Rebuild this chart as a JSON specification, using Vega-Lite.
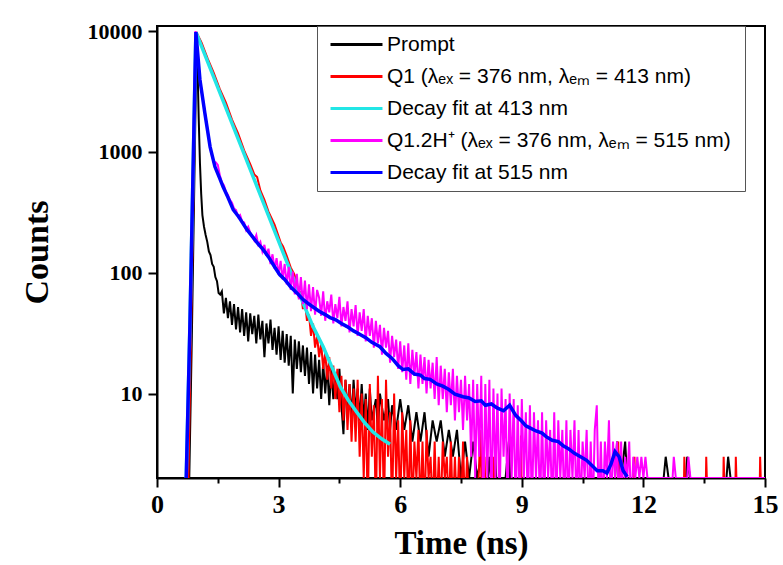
{
"$schema":"https://vega.github.io/schema/vega-lite/v6.json",
"width":608,"height":452,
"autosize":{"type":"none"},
"padding":{"left":157,"top":26,"right":18,"bottom":87},
"background":"white",
"config":{"view":{"stroke":"black","strokeWidth":2},"axis":{"grid":false,"domainColor":"black","domainWidth":2,"tickColor":"black","tickWidth":2,"labelColor":"black","titleColor":"black"}},
"datasets":{
"prompt":[{"t":0.78,"v":1},{"t":0.86,"v":30},{"t":0.98,"v":9600},{"t":1.0,"v":5000},{"t":1.03,"v":1840},{"t":1.06,"v":800},{"t":1.09,"v":450},{"t":1.12,"v":300},{"t":1.16,"v":240},{"t":1.2,"v":205},{"t":1.24,"v":180},{"t":1.28,"v":150},{"t":1.32,"v":140},{"t":1.36,"v":118},{"t":1.4,"v":112},{"t":1.44,"v":92},{"t":1.48,"v":85},{"t":1.52,"v":68},{"t":1.56,"v":66},{"t":1.6,"v":70},{"t":1.65,"v":46},{"t":1.7,"v":62},{"t":1.75,"v":42},{"t":1.8,"v":58},{"t":1.85,"v":37},{"t":1.9,"v":55},{"t":1.95,"v":34},{"t":2.0,"v":52},{"t":2.05,"v":32},{"t":2.1,"v":50},{"t":2.15,"v":30},{"t":2.2,"v":47},{"t":2.25,"v":27},{"t":2.3,"v":46},{"t":2.35,"v":31},{"t":2.4,"v":44},{"t":2.45,"v":26},{"t":2.5,"v":45},{"t":2.55,"v":28},{"t":2.6,"v":40},{"t":2.65,"v":20},{"t":2.7,"v":38},{"t":2.75,"v":26},{"t":2.8,"v":41},{"t":2.85,"v":23},{"t":2.9,"v":35},{"t":2.95,"v":21},{"t":3.0,"v":36},{"t":3.05,"v":19},{"t":3.1,"v":33},{"t":3.15,"v":18},{"t":3.2,"v":31},{"t":3.25,"v":17},{"t":3.3,"v":30},{"t":3.35,"v":10},{"t":3.4,"v":28},{"t":3.45,"v":16},{"t":3.5,"v":27},{"t":3.55,"v":15},{"t":3.6,"v":25},{"t":3.65,"v":14},{"t":3.7,"v":24},{"t":3.75,"v":12},{"t":3.8,"v":22},{"t":3.85,"v":10},{"t":3.9,"v":21},{"t":3.95,"v":11},{"t":4.0,"v":19},{"t":4.05,"v":9},{"t":4.1,"v":18},{"t":4.15,"v":10},{"t":4.2,"v":17},{"t":4.25,"v":8},{"t":4.3,"v":16},{"t":4.35,"v":9},{"t":4.4,"v":15},{"t":4.45,"v":9},{"t":4.5,"v":16},{"t":4.55,"v":8},{"t":4.6,"v":4.6},{"t":4.65,"v":13},{"t":4.7,"v":7},{"t":4.75,"v":12},{"t":4.8,"v":6},{"t":4.85,"v":13},{"t":4.9,"v":7},{"t":4.95,"v":11},{"t":5.0,"v":6},{"t":5.05,"v":12},{"t":5.1,"v":6},{"t":5.15,"v":10},{"t":5.2,"v":5},{"t":5.25,"v":11},{"t":5.3,"v":6},{"t":5.4,"v":9},{"t":5.45,"v":5},{"t":5.5,"v":10},{"t":5.6,"v":6},{"t":5.7,"v":9},{"t":5.75,"v":5},{"t":5.8,"v":8},{"t":5.9,"v":5},{"t":6.0,"v":9},{"t":6.1,"v":5},{"t":6.2,"v":8},{"t":6.3,"v":4},{"t":6.4,"v":7},{"t":6.5,"v":4},{"t":6.6,"v":7},{"t":6.7,"v":3},{"t":6.8,"v":6},{"t":6.9,"v":4},{"t":7.0,"v":6},{"t":7.1,"v":3},{"t":7.2,"v":5},{"t":7.3,"v":3},{"t":7.4,"v":5},{"t":7.5,"v":2},{"t":7.6,"v":4},{"t":7.7,"v":2},{"t":7.8,"v":4},{"t":7.9,"v":2},{"t":8.0,"v":3},{"t":8.1,"v":1},{"t":8.2,"v":3},{"t":8.3,"v":1},{"t":8.35,"v":3},{"t":8.4,"v":1},{"t":8.6,"v":2},{"t":8.68,"v":4},{"t":8.74,"v":1},{"t":9.0,"v":2},{"t":9.5,"v":1},{"t":10.0,"v":2},{"t":10.5,"v":2},{"t":11.0,"v":1},{"t":11.3,"v":2},{"t":11.35,"v":4},{"t":11.45,"v":2},{"t":11.55,"v":4},{"t":11.65,"v":1},{"t":12.0,"v":2},{"t":12.5,"v":2},{"t":12.55,"v":3},{"t":12.62,"v":2},{"t":13.05,"v":2},{"t":13.08,"v":3},{"t":13.15,"v":2},{"t":14.05,"v":2},{"t":14.09,"v":3},{"t":14.15,"v":2},{"t":15.0,"v":2}],
"q1":[{"t":0.76,"v":1},{"t":0.84,"v":34},{"t":0.97,"v":9800},{"t":1.1,"v":8000},{"t":1.25,"v":5900},{"t":1.4,"v":4500},{"t":1.55,"v":3300},{"t":1.7,"v":2550},{"t":1.85,"v":1850},{"t":2.0,"v":1420},{"t":2.15,"v":1030},{"t":2.3,"v":790},{"t":2.4,"v":650},{"t":2.47,"v":620},{"t":2.55,"v":480},{"t":2.65,"v":400},{"t":2.75,"v":320},{"t":2.9,"v":250},{"t":3.05,"v":178},{"t":3.11,"v":165},{"t":3.2,"v":138},{"t":3.3,"v":110},{"t":3.38,"v":98},{"t":3.45,"v":85},{"t":3.5,"v":62},{"t":3.55,"v":70},{"t":3.6,"v":50},{"t":3.65,"v":58},{"t":3.7,"v":40},{"t":3.75,"v":45},{"t":3.8,"v":30},{"t":3.85,"v":38},{"t":3.9,"v":24},{"t":3.95,"v":30},{"t":4.0,"v":20},{"t":4.05,"v":26},{"t":4.1,"v":16},{"t":4.15,"v":22},{"t":4.2,"v":13},{"t":4.25,"v":20},{"t":4.3,"v":11},{"t":4.35,"v":17},{"t":4.4,"v":9},{"t":4.45,"v":16},{"t":4.5,"v":7},{"t":4.55,"v":14},{"t":4.6,"v":6},{"t":4.65,"v":13},{"t":4.7,"v":5},{"t":4.75,"v":12},{"t":4.8,"v":4},{"t":4.85,"v":11},{"t":4.9,"v":4},{"t":4.95,"v":13},{"t":5.0,"v":3},{"t":5.05,"v":10},{"t":5.1,"v":2},{"t":5.15,"v":9},{"t":5.2,"v":1},{"t":5.25,"v":12},{"t":5.3,"v":3},{"t":5.35,"v":8},{"t":5.4,"v":1},{"t":5.45,"v":14},{"t":5.5,"v":2},{"t":5.55,"v":9},{"t":5.6,"v":1},{"t":5.65,"v":13},{"t":5.7,"v":3},{"t":5.75,"v":7},{"t":5.8,"v":1},{"t":5.85,"v":10},{"t":5.9,"v":2},{"t":5.95,"v":6},{"t":6.0,"v":1},{"t":6.05,"v":7},{"t":6.1,"v":2},{"t":6.15,"v":5},{"t":6.2,"v":1},{"t":6.25,"v":6},{"t":6.3,"v":1},{"t":6.35,"v":4},{"t":6.4,"v":2},{"t":6.45,"v":5},{"t":6.5,"v":1},{"t":6.55,"v":4},{"t":6.6,"v":1},{"t":6.65,"v":5},{"t":6.7,"v":2},{"t":6.75,"v":3},{"t":6.8,"v":1},{"t":6.85,"v":4},{"t":6.9,"v":1},{"t":6.95,"v":3},{"t":7.0,"v":1},{"t":7.05,"v":4},{"t":7.1,"v":2},{"t":7.15,"v":3},{"t":7.2,"v":1},{"t":7.25,"v":4},{"t":7.3,"v":1},{"t":7.35,"v":3},{"t":7.4,"v":1},{"t":7.45,"v":3},{"t":7.5,"v":1},{"t":7.55,"v":4},{"t":7.6,"v":1},{"t":7.65,"v":3},{"t":7.7,"v":1},{"t":7.8,"v":2},{"t":7.9,"v":1},{"t":7.98,"v":5},{"t":8.02,"v":1},{"t":8.08,"v":3},{"t":8.12,"v":1},{"t":8.28,"v":1},{"t":8.3,"v":3},{"t":8.36,"v":1},{"t":8.96,"v":1},{"t":8.98,"v":4.5},{"t":9.0,"v":1},{"t":11.36,"v":1},{"t":11.38,"v":4},{"t":11.4,"v":1},{"t":11.76,"v":1},{"t":11.78,"v":3},{"t":11.8,"v":1},{"t":12.99,"v":1},{"t":13.01,"v":3},{"t":13.05,"v":1},{"t":13.53,"v":1},{"t":13.55,"v":3},{"t":13.59,"v":1},{"t":13.96,"v":1},{"t":13.98,"v":3},{"t":14.02,"v":1},{"t":14.26,"v":1},{"t":14.28,"v":3},{"t":14.32,"v":1},{"t":14.86,"v":1},{"t":14.88,"v":3},{"t":14.92,"v":1},{"t":15.0,"v":1}],
"fit413":[{"t":0.7,"v":1},{"t":0.81,"v":34},{"t":0.96,"v":9800},{"t":3.6,"v":56.5},{"t":3.85,"v":35.8},{"t":4.1,"v":24.4},{"t":4.3,"v":17},{"t":4.52,"v":11.4},{"t":4.72,"v":8.8},{"t":4.93,"v":7.0},{"t":5.13,"v":5.7},{"t":5.33,"v":4.8},{"t":5.55,"v":4.2},{"t":5.75,"v":3.8}],
"h":[{"t":0.7,"v":1},{"t":0.81,"v":34},{"t":0.95,"v":10000},{"t":1.0,"v":6500},{"t":1.05,"v":4300},{"t":1.1,"v":3200},{"t":1.15,"v":2500},{"t":1.2,"v":1950},{"t":1.25,"v":1500},{"t":1.3,"v":1150},{"t":1.35,"v":950},{"t":1.4,"v":830},{"t":1.45,"v":820},{"t":1.5,"v":780},{"t":1.55,"v":640},{"t":1.6,"v":560},{"t":1.65,"v":530},{"t":1.7,"v":470},{"t":1.75,"v":440},{"t":1.8,"v":400},{"t":1.85,"v":380},{"t":1.9,"v":340},{"t":1.95,"v":330},{"t":2.0,"v":290},{"t":2.05,"v":300},{"t":2.1,"v":265},{"t":2.15,"v":260},{"t":2.2,"v":225},{"t":2.25,"v":240},{"t":2.3,"v":215},{"t":2.35,"v":200},{"t":2.4,"v":185},{"t":2.45,"v":205},{"t":2.5,"v":170},{"t":2.55,"v":180},{"t":2.6,"v":150},{"t":2.65,"v":170},{"t":2.7,"v":138},{"t":2.75,"v":158},{"t":2.8,"v":118},{"t":2.85,"v":142},{"t":2.9,"v":108},{"t":2.95,"v":132},{"t":3.0,"v":96},{"t":3.05,"v":125},{"t":3.1,"v":88},{"t":3.15,"v":118},{"t":3.2,"v":80},{"t":3.25,"v":112},{"t":3.3,"v":72},{"t":3.35,"v":102},{"t":3.4,"v":66},{"t":3.45,"v":98},{"t":3.5,"v":60},{"t":3.55,"v":92},{"t":3.6,"v":55},{"t":3.65,"v":86},{"t":3.7,"v":50},{"t":3.75,"v":80},{"t":3.8,"v":48},{"t":3.85,"v":76},{"t":3.9,"v":45},{"t":3.95,"v":72},{"t":4.0,"v":62},{"t":4.05,"v":44},{"t":4.1,"v":70},{"t":4.15,"v":40},{"t":4.2,"v":58},{"t":4.25,"v":47},{"t":4.3,"v":66},{"t":4.35,"v":38},{"t":4.4,"v":55},{"t":4.45,"v":42},{"t":4.5,"v":63},{"t":4.55,"v":36},{"t":4.6,"v":52},{"t":4.65,"v":40},{"t":4.7,"v":58},{"t":4.75,"v":32},{"t":4.8,"v":50},{"t":4.85,"v":36},{"t":4.9,"v":54},{"t":4.95,"v":30},{"t":5.0,"v":47},{"t":5.05,"v":33},{"t":5.1,"v":50},{"t":5.15,"v":27},{"t":5.2,"v":44},{"t":5.25,"v":30},{"t":5.3,"v":42},{"t":5.35,"v":24},{"t":5.4,"v":40},{"t":5.45,"v":26},{"t":5.5,"v":37},{"t":5.55,"v":21},{"t":5.6,"v":35},{"t":5.65,"v":24},{"t":5.7,"v":33},{"t":5.75,"v":18},{"t":5.8,"v":30},{"t":5.85,"v":20},{"t":5.9,"v":28},{"t":5.95,"v":16},{"t":6.0,"v":27},{"t":6.05,"v":15},{"t":6.1,"v":25},{"t":6.15,"v":13},{"t":6.2,"v":26},{"t":6.25,"v":12},{"t":6.3,"v":23},{"t":6.35,"v":14},{"t":6.4,"v":22},{"t":6.45,"v":11},{"t":6.5,"v":21},{"t":6.55,"v":12},{"t":6.6,"v":20},{"t":6.65,"v":10},{"t":6.7,"v":19},{"t":6.75,"v":11},{"t":6.8,"v":18},{"t":6.85,"v":9},{"t":6.9,"v":20},{"t":6.95,"v":8},{"t":7.0,"v":17},{"t":7.05,"v":9},{"t":7.1,"v":16},{"t":7.15,"v":7},{"t":7.2,"v":15},{"t":7.25,"v":8},{"t":7.3,"v":16},{"t":7.35,"v":6},{"t":7.4,"v":14},{"t":7.45,"v":7},{"t":7.5,"v":13},{"t":7.55,"v":5},{"t":7.6,"v":14},{"t":7.65,"v":6},{"t":7.7,"v":12},{"t":7.75,"v":3},{"t":7.8,"v":13},{"t":7.85,"v":2},{"t":7.9,"v":12},{"t":7.95,"v":3},{"t":8.0,"v":14},{"t":8.05,"v":1},{"t":8.1,"v":12},{"t":8.15,"v":2},{"t":8.2,"v":13},{"t":8.25,"v":1},{"t":8.3,"v":11},{"t":8.35,"v":2},{"t":8.4,"v":10},{"t":8.45,"v":1},{"t":8.5,"v":11},{"t":8.55,"v":3},{"t":8.6,"v":9},{"t":8.65,"v":1},{"t":8.7,"v":10},{"t":8.75,"v":2},{"t":8.8,"v":9},{"t":8.85,"v":1},{"t":8.9,"v":8},{"t":8.95,"v":1},{"t":9.0,"v":9},{"t":9.05,"v":2},{"t":9.1,"v":7},{"t":9.15,"v":1},{"t":9.2,"v":8},{"t":9.25,"v":1},{"t":9.3,"v":7},{"t":9.35,"v":2},{"t":9.4,"v":6},{"t":9.45,"v":1},{"t":9.5,"v":7},{"t":9.55,"v":1},{"t":9.6,"v":6},{"t":9.65,"v":2},{"t":9.7,"v":5},{"t":9.75,"v":1},{"t":9.8,"v":7},{"t":9.85,"v":1},{"t":9.9,"v":6},{"t":9.95,"v":2},{"t":10.0,"v":5},{"t":10.05,"v":1},{"t":10.1,"v":6},{"t":10.15,"v":1},{"t":10.2,"v":5},{"t":10.25,"v":2},{"t":10.3,"v":6},{"t":10.35,"v":1},{"t":10.4,"v":5},{"t":10.45,"v":1},{"t":10.5,"v":4},{"t":10.55,"v":2},{"t":10.6,"v":5},{"t":10.65,"v":1},{"t":10.7,"v":4},{"t":10.75,"v":1},{"t":10.8,"v":5},{"t":10.85,"v":8},{"t":10.9,"v":1},{"t":10.95,"v":4},{"t":11.0,"v":1},{"t":11.05,"v":4},{"t":11.1,"v":2},{"t":11.15,"v":6},{"t":11.2,"v":1},{"t":11.25,"v":4},{"t":11.3,"v":2},{"t":11.35,"v":4},{"t":11.4,"v":1},{"t":11.45,"v":4},{"t":11.5,"v":1},{"t":11.55,"v":3},{"t":11.6,"v":2},{"t":11.65,"v":4},{"t":11.7,"v":1},{"t":11.75,"v":3},{"t":11.8,"v":2},{"t":11.85,"v":3},{"t":11.9,"v":2},{"t":11.95,"v":3},{"t":12.0,"v":2},{"t":12.05,"v":3},{"t":12.1,"v":2},{"t":12.72,"v":2},{"t":12.75,"v":3},{"t":12.8,"v":2},{"t":13.08,"v":2},{"t":13.11,"v":3},{"t":13.16,"v":2},{"t":15.0,"v":2}],
"fit515":[{"t":0.7,"v":1},{"t":0.81,"v":34},{"t":0.96,"v":9800},{"t":1.06,"v":3940},{"t":1.18,"v":2100},{"t":1.31,"v":1100},{"t":1.43,"v":752},{"t":1.55,"v":600},{"t":1.63,"v":514},{"t":1.75,"v":420},{"t":1.88,"v":332},{"t":2.0,"v":295},{"t":2.1,"v":262},{"t":2.22,"v":227},{"t":2.35,"v":200},{"t":2.5,"v":172},{"t":2.62,"v":155},{"t":2.75,"v":135},{"t":2.9,"v":112},{"t":3.03,"v":96},{"t":3.15,"v":88},{"t":3.3,"v":76},{"t":3.45,"v":68},{"t":3.6,"v":60},{"t":3.75,"v":55},{"t":3.85,"v":52},{"t":4.0,"v":48},{"t":4.15,"v":45},{"t":4.27,"v":42.5},{"t":4.4,"v":41},{"t":4.55,"v":38},{"t":4.69,"v":35.8},{"t":4.85,"v":33},{"t":5.0,"v":31},{"t":5.15,"v":29},{"t":5.3,"v":26.5},{"t":5.5,"v":24.4},{"t":5.65,"v":21.5},{"t":5.8,"v":19.5},{"t":5.95,"v":17},{"t":6.07,"v":15.8},{"t":6.2,"v":16},{"t":6.35,"v":14.5},{"t":6.5,"v":14.2},{"t":6.6,"v":13.3},{"t":6.74,"v":13.1},{"t":6.9,"v":12},{"t":7.05,"v":11.5},{"t":7.2,"v":10.8},{"t":7.35,"v":9.9},{"t":7.55,"v":9.4},{"t":7.7,"v":9.2},{"t":7.85,"v":8.6},{"t":8.0,"v":8.7},{"t":8.1,"v":8.0},{"t":8.25,"v":8.2},{"t":8.39,"v":7.6},{"t":8.55,"v":7.2},{"t":8.7,"v":8.0},{"t":8.85,"v":6.6},{"t":9.0,"v":5.9},{"t":9.1,"v":5.4},{"t":9.2,"v":5.2},{"t":9.35,"v":4.9},{"t":9.5,"v":4.7},{"t":9.6,"v":4.4},{"t":9.75,"v":4.1},{"t":9.9,"v":4.0},{"t":10.02,"v":3.7},{"t":10.15,"v":3.5},{"t":10.3,"v":3.2},{"t":10.45,"v":3.0},{"t":10.6,"v":2.8},{"t":10.75,"v":2.5},{"t":10.86,"v":2.3},{"t":11.0,"v":2.3},{"t":11.1,"v":2.2},{"t":11.2,"v":2.6},{"t":11.3,"v":3.3},{"t":11.4,"v":3.0},{"t":11.5,"v":2.3},{"t":11.6,"v":2.05}]
},
"encoding":{
"y":{"field":"v","type":"quantitative","scale":{"type":"log","domain":[2,11000],"nice":false},
"axis":{"values":[10,100,1000,10000],"format":"d","title":"Counts","labelFont":"Liberation Serif","labelFontWeight":"bold","labelFontSize":22,"tickSize":9,"labelPadding":6,"titleFont":"Liberation Serif","titleFontWeight":"bold","titleFontSize":34,"titleX":-110,"titleY":226,"titleAlign":"center","titleBaseline":"alphabetic","titleAngle":270}}
},
"layer":[
{"data":{"name":"prompt"},"mark":{"type":"line","strokeWidth":2,"clip":true},
"encoding":{
"x":{"field":"t","type":"quantitative","scale":{"domain":[0,15],"nice":false},"axis":{"orient":"bottom","values":[1.5,4.5,7.5,10.5,13.5],"labels":false,"title":null,"tickSize":5,"domain":false}},
"color":{"datum":"Prompt","scale":{"domain":["Prompt","Q1 (λₑₓ = 376 nm, λₑₘ = 413 nm)","Decay fit at 413 nm","Q1.2H⁺  (λₑₓ = 376 nm, λₑₘ = 515 nm)","Decay fit at 515 nm"],"range":["#000000","#FF0000","#22E6E6","#FF00FF","#0000FF"]},
"legend":{"orient":"none","legendX":160,"legendY":0,"title":null,"symbolType":"M-5,0H5","symbolSize":108,"symbolStrokeWidth":3,"symbolOffset":21,"labelFont":"Liberation Sans","labelFontSize":21,"labelColor":"black","labelLimit":600,"rowPadding":10,"padding":8,"labelOffset":20,"strokeColor":"#555555","fillColor":"white"}}}},
{"encoding":{"x":{"field":"t","type":"quantitative","scale":{"domain":[0,15],"nice":false},
"axis":{"orient":"bottom","values":[0,3,6,9,12,15],"title":"Time (ns)","labelFont":"Liberation Serif","labelFontWeight":"bold","labelFontSize":26,"tickSize":9,"labelPadding":4,"labelFlush":false,"labelOverlap":false,"titleFont":"Liberation Serif","titleFontWeight":"bold","titleFontSize":33,"titleX":304,"titleY":75,"titleAlign":"center","titleBaseline":"alphabetic"}}},
"layer":[
{"data":{"name":"q1"},"mark":{"type":"line","strokeWidth":2,"clip":true},"encoding":{"color":{"datum":"Q1 (λₑₓ = 376 nm, λₑₘ = 413 nm)"}}},
{"data":{"name":"fit413"},"mark":{"type":"line","strokeWidth":3.5,"clip":true},"encoding":{"color":{"datum":"Decay fit at 413 nm"}}},
{"data":{"name":"h"},"mark":{"type":"line","strokeWidth":2,"clip":true},"encoding":{"color":{"datum":"Q1.2H⁺  (λₑₓ = 376 nm, λₑₘ = 515 nm)"}}},
{"data":{"name":"fit515"},"mark":{"type":"line","strokeWidth":3.5,"clip":true},"encoding":{"color":{"datum":"Decay fit at 515 nm"}}}
]}
],
"resolve":{"axis":{"x":"independent"}}
}
